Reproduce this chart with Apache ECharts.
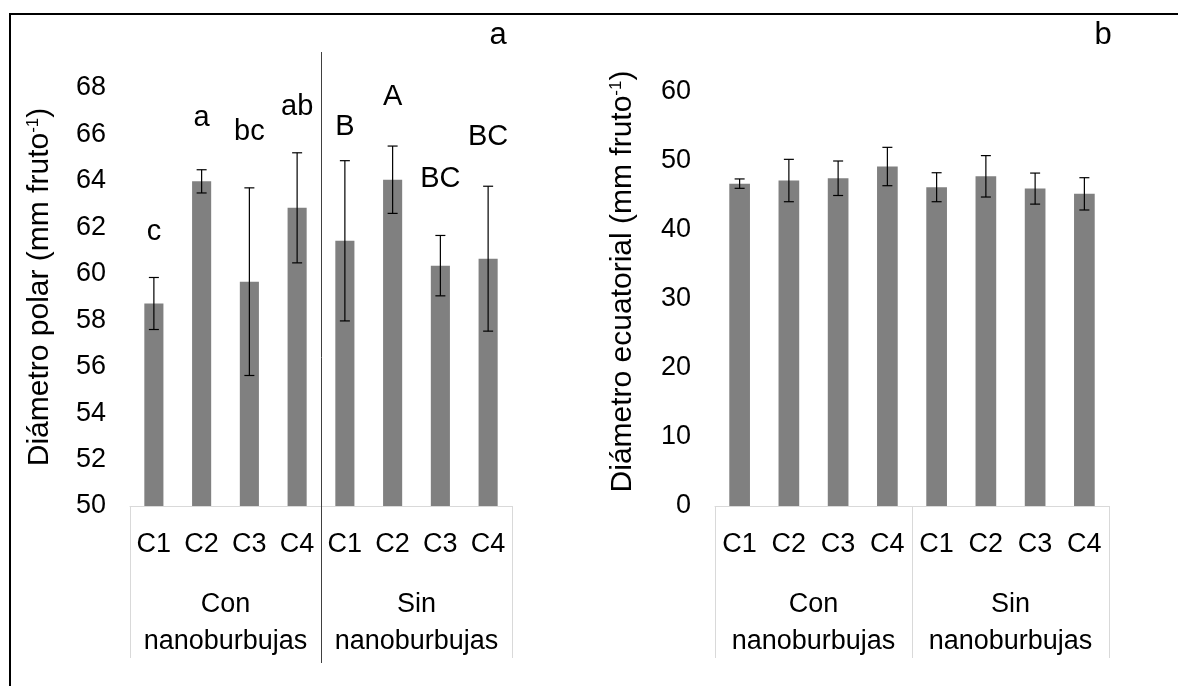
<!DOCTYPE html>
<html><head><meta charset="utf-8">
<script src="https://cdn.jsdelivr.net/npm/echarts@6/dist/echarts.min.js"></script>
<style>html,body{margin:0;padding:0;background:#fff}#c{width:1178px;height:686px}</style>
</head><body><div id="c"></div>
<script>
// ---- data ----
const categories = ['C1', 'C2', 'C3', 'C4', 'C1', 'C2', 'C3', 'C4'];
const groups = ['Con\nnanoburbujas', 'Sin\nnanoburbujas'];
const polarMean = [58.72, 63.98, 59.66, 62.84, 61.42, 64.05, 60.35, 60.65];
const polarErr = [1.12, 0.50, 4.04, 2.37, 3.45, 1.45, 1.30, 3.12];
const polarLetters = ['c', 'a', 'bc', 'ab', 'B', 'A', 'BC', 'BC'];
const polarLetterY = [61.8, 66.7, 66.1, 67.2, 66.3, 67.6, 64.1, 65.9];
const ecuMean = [46.72, 47.17, 47.50, 49.20, 46.20, 47.78, 46.00, 45.24];
const ecuErr = [0.68, 3.07, 2.50, 2.78, 2.10, 3.00, 2.25, 2.34];
const polarAxis = [50, 68, 2];   // min, max, interval
const ecuAxis = [0, 60, 10];
const polarTitle = 'Diámetro polar (mm fruto{sup|-1})';
const ecuTitle = 'Diámetro ecuatorial (mm fruto{sup|-1})';
const panelLetters = ['a', 'b'];

// ---- chart ----
const FONT = "'Liberation Sans', Arial, sans-serif";
const chart = echarts.init(document.getElementById('c'), null, {renderer: 'canvas'});

function errItem(params, api) {
  const i = api.value(0), m = api.value(1), e = api.value(2);
  const hi = api.coord([i, m + e]);
  const lo = api.coord([i, m - e]);
  const w = 5;
  const st = {stroke: '#000', lineWidth: 1.2};
  return {type: 'group', children: [
    {type: 'line', shape: {x1: hi[0], y1: hi[1], x2: lo[0], y2: lo[1]}, style: st},
    {type: 'line', shape: {x1: hi[0] - w, y1: hi[1], x2: hi[0] + w, y2: hi[1]}, style: st},
    {type: 'line', shape: {x1: lo[0] - w, y1: lo[1], x2: lo[0] + w, y2: lo[1]}, style: st}
  ]};
}

function catAxis(gi) {
  return {
    gridIndex: gi, type: 'category', data: categories, position: 'bottom',
    axisLine: {show: true, lineStyle: {color: '#d9d9d9', width: 1}},
    axisTick: {show: false},
    axisLabel: {interval: 0, margin: 25, fontSize: 27, lineHeight: 27, color: '#000', fontFamily: FONT},
    splitLine: {show: false}
  };
}
function groupAxis(gi) {
  return {
    gridIndex: gi, type: 'category', data: groups, position: 'bottom',
    axisLine: {show: false},
    axisTick: {show: true, length: 152, lineStyle: {color: '#d9d9d9', width: 1}},
    axisLabel: {interval: 0, margin: 80, fontSize: 27, lineHeight: 37, color: '#000', fontFamily: FONT},
    splitLine: {show: false}
  };
}
function valAxis(gi, ax, title, gap, shift) {
  return {
    gridIndex: gi, type: 'value', min: ax[0], max: ax[1], interval: ax[2],
    axisLine: {show: false}, axisTick: {show: false}, splitLine: {show: false},
    axisLabel: {fontSize: 27, color: '#000', margin: 24, fontFamily: FONT},
    name: title, nameLocation: 'middle', nameRotate: 90, nameGap: gap,
    nameTextStyle: {
      fontSize: 30, color: '#000', fontFamily: FONT, padding: [0, 0, 0, shift],
      rich: {sup: {fontSize: 17, color: '#000', fontFamily: FONT, verticalAlign: 'top', lineHeight: 30, padding: [0, 0, 12, 0]}}
    }
  };
}

chart.setOption({
  animation: false,
  backgroundColor: '#fff',
  grid: [
    {left: 130, top: 88, width: 382, height: 418},
    {left: 715, top: 92, width: 394, height: 414}
  ],
  xAxis: [catAxis(0), groupAxis(0), catAxis(1), groupAxis(1)],
  yAxis: [valAxis(0, polarAxis, polarTitle, 75, 20), valAxis(1, ecuAxis, ecuTitle, 77, 35)],
  series: [
    {type: 'bar', xAxisIndex: 0, yAxisIndex: 0, data: polarMean, barWidth: '40%',
     itemStyle: {color: '#808080'}, silent: true},
    {type: 'custom', xAxisIndex: 0, yAxisIndex: 0, renderItem: errItem, silent: true, z: 5,
     data: polarMean.map((m, i) => [i, m, polarErr[i]])},
    {type: 'scatter', xAxisIndex: 0, yAxisIndex: 0, symbolSize: 0, silent: true,
     itemStyle: {opacity: 1},
     data: polarLetterY.map((y, i) => [i, y]),
     label: {show: true, position: 'inside', formatter: p => polarLetters[p.dataIndex],
             fontSize: 29, color: '#000', opacity: 1, fontFamily: FONT}},
    {type: 'bar', xAxisIndex: 2, yAxisIndex: 1, data: ecuMean, barWidth: '42%',
     itemStyle: {color: '#808080'}, silent: true},
    {type: 'custom', xAxisIndex: 2, yAxisIndex: 1, renderItem: errItem, silent: true, z: 5,
     data: ecuMean.map((m, i) => [i, m, ecuErr[i]])}
  ]
});

// divider between groups in panel a, frame and panel letters
const x3 = chart.convertToPixel({xAxisIndex: 0}, 3);
const x4 = chart.convertToPixel({xAxisIndex: 0}, 4);
const xd = Math.round((x3 + x4) / 2) + 0.5;
chart.setOption({
  graphic: [
    {type: 'line', shape: {x1: xd, y1: 52, x2: xd, y2: 663}, style: {stroke: '#404040', lineWidth: 1}, z: 10},
    {type: 'rect', shape: {x: 10, y: 14, width: 1200, height: 700}, style: {fill: null, stroke: '#000', lineWidth: 2}, z: 10},
    {type: 'text', x: 498, y: 35, style: {text: panelLetters[0], fontSize: 31, fontFamily: FONT, fill: '#000', textAlign: 'center', textVerticalAlign: 'middle'}},
    {type: 'text', x: 1103, y: 35, style: {text: panelLetters[1], fontSize: 31, fontFamily: FONT, fill: '#000', textAlign: 'center', textVerticalAlign: 'middle'}}
  ]
});
</script>
</body></html>
